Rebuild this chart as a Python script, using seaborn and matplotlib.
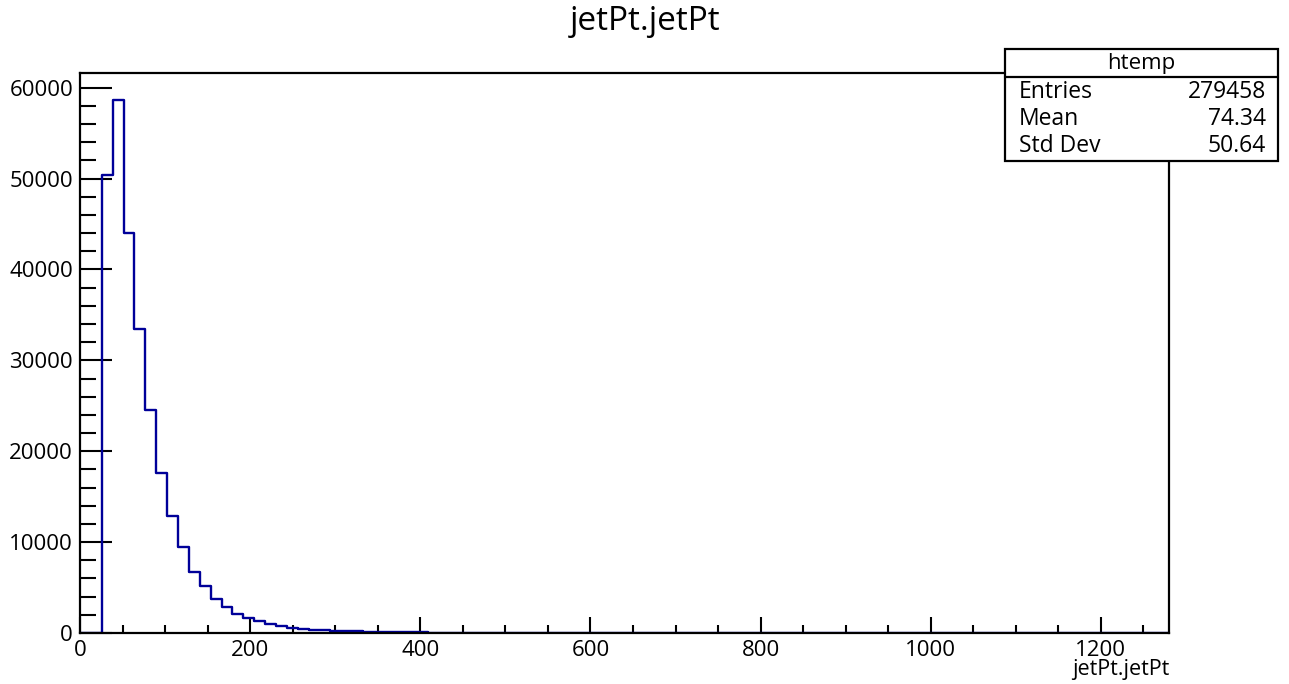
import numpy as np
import pandas as pd
import matplotlib
matplotlib.use("Agg")
import matplotlib.pyplot as plt
import matplotlib.ticker as mticker
from matplotlib.patches import Rectangle
from matplotlib.lines import Line2D
import seaborn as sns

# ---- data ----
x_min = 0.0
x_max = 1280.0
n_bins = 100
counts = [
    0, 0, 50350, 58680, 43960, 33470, 24550, 17580, 12910, 9430,
    6720, 5170, 3710, 2860, 2060, 1600, 1280, 990, 770, 590,
    480, 380, 330, 270, 220, 180, 150, 120, 100, 85,
    70, 58, 48, 40, 33, 28, 23, 19, 16, 13,
    11, 9, 8, 7, 6, 5, 4, 4, 3, 3,
    2, 2, 2, 1, 1, 1, 1, 1, 1, 1,
    0, 0, 0, 0, 0, 0, 0, 0, 0, 0,
    0, 0, 0, 0, 0, 0, 0, 0, 0, 0,
    0, 0, 0, 0, 0, 0, 0, 0, 0, 0,
    0, 0, 0, 0, 0, 0, 0, 0, 0, 0,
]
title = "jetPt.jetPt"
x_label = "jetPt.jetPt"
stats_name = "htemp"
stats_labels = ["Entries", "Mean", "Std Dev"]
stats_values = ["279458", "74.34", "50.64"]
x_ticks = [0, 200, 400, 600, 800, 1000, 1200]
y_ticks = [0, 10000, 20000, 30000, 40000, 50000, 60000]

edges = np.linspace(x_min, x_max, n_bins + 1)
centers = 0.5 * (edges[:-1] + edges[1:])
df = pd.DataFrame({"x": centers, "w": np.asarray(counts, dtype=float)})

sns.set_style("ticks")
plt.rcParams["font.family"] = ["Open Sans", "DejaVu Sans"]
plt.rcParams["text.color"] = "black"
plt.rcParams["xtick.color"] = "black"
plt.rcParams["ytick.color"] = "black"
plt.rcParams["axes.edgecolor"] = "black"

W, H = 1289, 684
fig = plt.figure(figsize=(W / 100, H / 100), dpi=100)
ax = fig.add_axes([80 / W, 51 / H, 1089 / W, 560 / H])

sns.histplot(data=df, x="x", weights="w", bins=list(edges), element="step",
             fill=False, color="#000099", linewidth=1.7, ax=ax)

ax.set_xlim(x_min, x_max)
ax.set_ylim(0, 1.05 * max(counts))
ax.set_ylabel("")
ax.set_xlabel("")

ax.xaxis.set_major_locator(mticker.FixedLocator(x_ticks))
ax.xaxis.set_minor_locator(mticker.MultipleLocator(50))
ax.yaxis.set_major_locator(mticker.FixedLocator(y_ticks))
ax.yaxis.set_minor_locator(mticker.MultipleLocator(2000))
ax.xaxis.set_major_formatter(mticker.FuncFormatter(lambda v, p: f"{v:.0f}"))
ax.yaxis.set_major_formatter(mticker.FuncFormatter(lambda v, p: f"{v:.0f}"))

for s in ax.spines.values():
    s.set_visible(True)
    s.set_linewidth(1.6)
    s.set_color("black")

ax.tick_params(bottom=True, left=True, top=False, right=False, which="both")
ax.tick_params(axis="x", which="major", direction="in", length=11.5, width=1.5,
               labelsize=16, pad=5, colors="black")
ax.tick_params(axis="x", which="minor", direction="in", length=5.8, width=1.5)
ax.tick_params(axis="y", which="major", direction="in", length=23, width=1.5,
               labelsize=16, pad=5, colors="black")
ax.tick_params(axis="y", which="minor", direction="in", length=11.5, width=1.5)

fig.text(645 / W, 1 - 22 / H, title, ha="center", va="center", fontsize=24)
fig.text(1169 / W, 1 - 670 / H, x_label, ha="right", va="center", fontsize=15.5)

# stats box
bx0, bx1, by0, by1 = 1005, 1278, 49, 161
rect = Rectangle((bx0 / W, 1 - by1 / H), (bx1 - bx0) / W, (by1 - by0) / H,
                 transform=fig.transFigure, facecolor="white", edgecolor="black",
                 linewidth=1.6, zorder=10)
fig.add_artist(rect)
fig.add_artist(Line2D([bx0 / W, bx1 / W], [1 - 77 / H, 1 - 77 / H],
                      transform=fig.transFigure, color="black", linewidth=1.6, zorder=11))
fig.text((bx0 + bx1) / 2 / W, 1 - 63 / H, stats_name, ha="center", va="center",
         fontsize=16, zorder=12)
for i, (lab, val) in enumerate(zip(stats_labels, stats_values)):
    yy = 1 - (92 + 27 * i) / H
    fig.text(1019 / W, yy, lab, ha="left", va="center", fontsize=16.5, zorder=12)
    fig.text(1266 / W, yy, val, ha="right", va="center", fontsize=16.5, zorder=12)

fig.savefig("out.png", dpi=100)
